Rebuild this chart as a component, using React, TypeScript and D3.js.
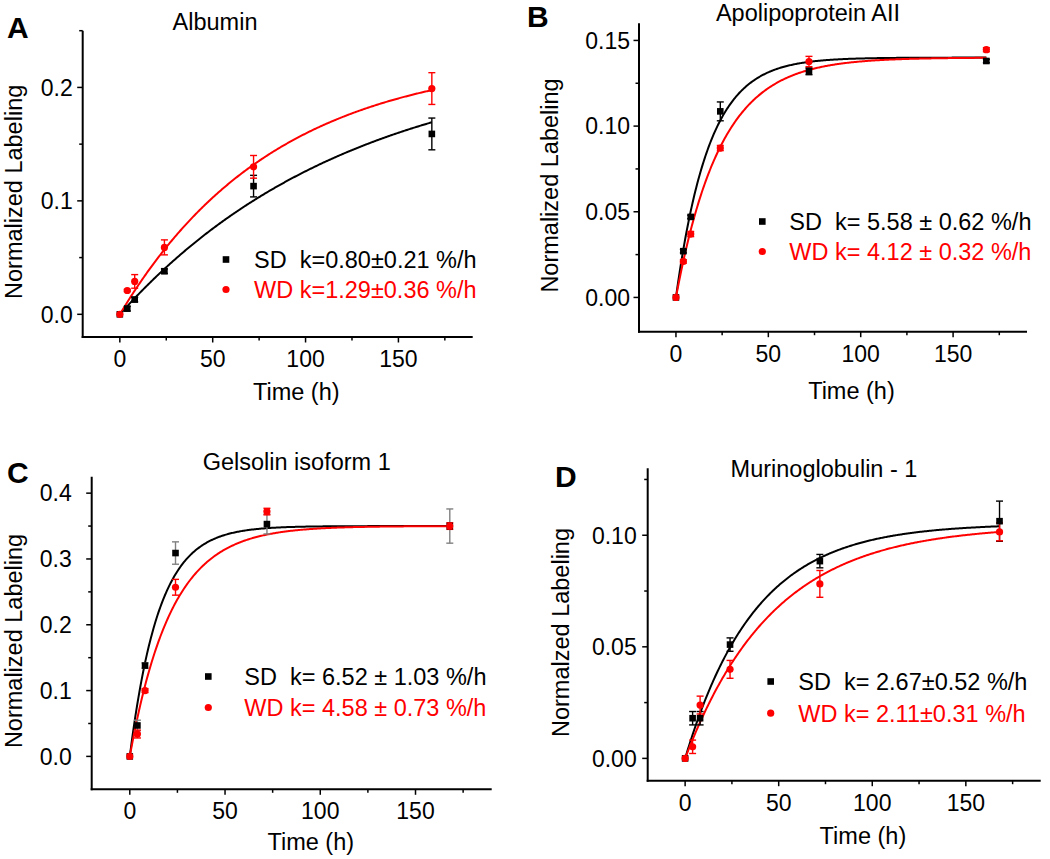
import React from 'react';
import * as d3 from 'd3';

// ---------- data ----------
const timePoints = [0, 4, 8, 24, 72, 168];

// Panel A: Albumin
const albuminSD = [0, 0.005, 0.013, 0.038, 0.113, 0.159];
const albuminSDErr = [0, 0.002, 0.002, 0.002, 0.0095, 0.014];
const albuminWD = [0, 0.021, 0.029, 0.059, 0.13, 0.199];
const albuminWDErr = [0, 0.001, 0.006, 0.0066, 0.01, 0.014];
const albuminFitSD = { plateau: 0.229, rate: 0.008 };
const albuminFitWD = { plateau: 0.228, rate: 0.012 };

// Panel B: Apolipoprotein AII
const apoSD = [0, 0.027, 0.047, 0.1086, 0.132, 0.138];
const apoSDErr = [0, 0.001, 0.001, 0.0055, 0.002, 0.001];
const apoWD = [0, 0.021, 0.037, 0.0872, 0.1377, 0.1446];
const apoWDErr = [0, 0.001, 0.0015, 0.0015, 0.003, 0.0012];
const apoFitSD = { plateau: 0.14, rate: 0.0558 };
const apoFitWD = { plateau: 0.14, rate: 0.0412 };

// Panel C: Gelsolin isoform 1
const gelSD = [0, 0.047, 0.138, 0.309, 0.353, 0.35];
const gelSDErr = [0, 0.008, 0.004, 0.017, 0.015, 0.026];
const gelWD = [0, 0.034, 0.1, 0.257, 0.372, 0.35];
const gelWDErr = [0, 0.006, 0.003, 0.012, 0.005, 0.005];
const gelFitSD = { plateau: 0.35, rate: 0.0652 };
const gelFitWD = { plateau: 0.35, rate: 0.0458 };

// Panel D: Murinoglobulin - 1
const murSD = [0, 0.018, 0.018, 0.051, 0.0884, 0.1063];
const murSDErr = [0, 0.003, 0.003, 0.003, 0.003, 0.009];
const murWD = [0, 0.0052, 0.0239, 0.0399, 0.0782, 0.1015];
const murWDErr = [0, 0.003, 0.004, 0.004, 0.006, 0.004];
const murFitSD = { plateau: 0.1052, rate: 0.0267 };
const murFitWD = { plateau: 0.1045, rate: 0.0211 };

const xMajorTicks = [0, 50, 100, 150];
const xMinorTicks = [25, 75, 125, 175];

const legendA = ['SD  k=0.80±0.21 %/h', 'WD k=1.29±0.36 %/h'];
const legendB = ['SD  k= 5.58 ± 0.62 %/h', 'WD k= 4.12 ± 0.32 %/h'];
const legendC = ['SD  k= 6.52 ± 1.03 %/h', 'WD k= 4.58 ± 0.73 %/h'];
const legendD = ['SD  k= 2.67±0.52 %/h', 'WD k= 2.11±0.31 %/h'];

// ---------- rendering ----------
const FONT = '"Liberation Sans", Arial, sans-serif';
const RED = '#ff0000';

type Fit = { plateau: number; rate: number };
type Series = {
  values: number[];
  errors: number[];
  fit: Fit;
  color: string;
  errColor: string;
  shape: 'square' | 'circle';
};

type PanelCfg = {
  letter: string;
  letterX: number;
  letterY: number;
  title: string;
  titleX: number;
  titleY: number;
  left: number;
  right: number;
  top: number;
  bottom: number;
  yDomain: [number, number];
  yMajor: number[];
  yMinor: number[];
  yFmt: string;
  yLabelGap: number;
  yTitle: string;
  yTitleX: number;
  xTitleY: number;
  series: Series[];
  legend: string[];
  legendMarkerX: number;
  legendTextX: number;
  legendY: number[];
};

function Marker({ shape, x, y, color }: { shape: string; x: number; y: number; color: string }) {
  if (shape === 'square') {
    return <rect x={x - 3.3} y={y - 3.3} width={6.6} height={6.6} fill={color} />;
  }
  return <circle cx={x} cy={y} r={3.6} fill={color} />;
}

function Panel({ cfg }: { cfg: PanelCfg }) {
  const x = d3.scaleLinear().domain([-20, 190]).range([cfg.left, cfg.right]);
  const y = d3.scaleLinear().domain(cfg.yDomain).range([cfg.bottom, cfg.top]);
  const fmt = d3.format(cfg.yFmt);
  const tGrid = d3.range(0, 168.5, 0.5);
  const line = d3
    .line<number>()
    .x((t) => x(t))
    .curve(d3.curveLinear);

  return (
    <g>
      <text x={cfg.letterX} y={cfg.letterY} fontFamily={FONT} fontWeight="bold" fontSize={30}>
        {cfg.letter}
      </text>
      <text x={cfg.titleX} y={cfg.titleY} fontFamily={FONT} fontSize={23.5} textAnchor="middle">
        {cfg.title}
      </text>

      {/* fit curves */}
      {cfg.series.map((s, i) => (
        <path
          key={'fit' + i}
          d={line.y((t) => y(s.fit.plateau * (1 - Math.exp(-s.fit.rate * t))))(tGrid) || ''}
          fill="none"
          stroke={s.color}
          strokeWidth={2}
        />
      ))}

      {/* error bars */}
      {cfg.series.map((s, i) =>
        timePoints.map((t, j) => {
          const e = s.errors[j];
          if (!e) return null;
          const cx = x(t);
          const y1 = y(s.values[j] + e);
          const y2 = y(s.values[j] - e);
          return (
            <g key={'e' + i + '-' + j} stroke={s.errColor} strokeWidth={1.4}>
              <line x1={cx} x2={cx} y1={y1} y2={y2} />
              <line x1={cx - 3.5} x2={cx + 3.5} y1={y1} y2={y1} />
              <line x1={cx - 3.5} x2={cx + 3.5} y1={y2} y2={y2} />
            </g>
          );
        })
      )}

      {/* markers */}
      {cfg.series.map((s, i) =>
        timePoints.map((t, j) => (
          <Marker key={'m' + i + '-' + j} shape={s.shape} x={x(t)} y={y(s.values[j])} color={s.color} />
        ))
      )}

      {/* axes */}
      <line x1={cfg.left} x2={cfg.left} y1={cfg.top} y2={cfg.bottom + 1} stroke="#000" strokeWidth={2} />
      <line x1={cfg.left - 1} x2={cfg.right} y1={cfg.bottom} y2={cfg.bottom} stroke="#000" strokeWidth={2} />

      {cfg.yMajor.map((v) => (
        <g key={'ym' + v}>
          <line x1={cfg.left - 5.5} x2={cfg.left} y1={y(v)} y2={y(v)} stroke="#000" strokeWidth={1.5} />
          <text
            x={cfg.left - cfg.yLabelGap}
            y={y(v)}
            dy="0.36em"
            textAnchor="end"
            fontFamily={FONT}
            fontSize={23}
          >
            {fmt(v)}
          </text>
        </g>
      ))}
      {cfg.yMinor.map((v) => (
        <line key={'yn' + v} x1={cfg.left - 3.5} x2={cfg.left} y1={y(v)} y2={y(v)} stroke="#000" strokeWidth={1.5} />
      ))}
      {xMajorTicks.map((v) => (
        <g key={'xm' + v}>
          <line x1={x(v)} x2={x(v)} y1={cfg.bottom} y2={cfg.bottom + 5.5} stroke="#000" strokeWidth={1.5} />
          <text x={x(v)} y={cfg.bottom + 30} textAnchor="middle" fontFamily={FONT} fontSize={23}>
            {v}
          </text>
        </g>
      ))}
      {xMinorTicks.map((v) => (
        <line key={'xn' + v} x1={x(v)} x2={x(v)} y1={cfg.bottom} y2={cfg.bottom + 3.5} stroke="#000" strokeWidth={1.5} />
      ))}

      <text
        x={(x(0) + cfg.right) / 2 + 0}
        y={cfg.xTitleY}
        textAnchor="middle"
        fontFamily={FONT}
        fontSize={23.5}
      >
        Time (h)
      </text>
      <text
        transform={`translate(${cfg.yTitleX},${(cfg.top + cfg.bottom) / 2 + 8}) rotate(-90)`}
        textAnchor="middle"
        fontFamily={FONT}
        fontSize={23.5}
      >
        {cfg.yTitle}
      </text>

      {/* legend */}
      {cfg.series.map((s, i) => (
        <g key={'lg' + i}>
          <Marker shape={s.shape} x={cfg.legendMarkerX} y={cfg.legendY[i] - 8.5} color={s.color} />
          <text
            x={cfg.legendTextX}
            y={cfg.legendY[i]}
            fontFamily={FONT}
            fontSize={23.5}
            fill={s.color}
            style={{ whiteSpace: 'pre' }}
          >
            {cfg.legend[i]}
          </text>
        </g>
      ))}
    </g>
  );
}

const panels: PanelCfg[] = [
  {
    letter: 'A', letterX: 7, letterY: 38,
    title: 'Albumin', titleX: 215, titleY: 30,
    left: 82.7, right: 472.7, top: 30.7, bottom: 337,
    yDomain: [-0.02, 0.25], yMajor: [0, 0.1, 0.2], yMinor: [0.05, 0.15, 0.25], yFmt: '.1f', yLabelGap: 10,
    yTitle: 'Normalized Labeling', yTitleX: 22, xTitleY: 400,
    series: [
      { values: albuminSD, errors: albuminSDErr, fit: albuminFitSD, color: '#000', errColor: '#000', shape: 'square' },
      { values: albuminWD, errors: albuminWDErr, fit: albuminFitWD, color: RED, errColor: RED, shape: 'circle' },
    ],
    legend: legendA, legendMarkerX: 226, legendTextX: 254, legendY: [268, 298],
  },
  {
    letter: 'B', letterX: 527, letterY: 27,
    title: 'Apolipoprotein AII', titleX: 808, titleY: 21,
    left: 639, right: 1027, top: 23.3, bottom: 331.7,
    yDomain: [-0.02, 0.16], yMajor: [0, 0.05, 0.1, 0.15], yMinor: [0.025, 0.075, 0.125], yFmt: '.2f', yLabelGap: 9,
    yTitle: 'Normalized Labeling', yTitleX: 558, xTitleY: 398.5,
    series: [
      { values: apoSD, errors: apoSDErr, fit: apoFitSD, color: '#000', errColor: '#000', shape: 'square' },
      { values: apoWD, errors: apoWDErr, fit: apoFitWD, color: RED, errColor: RED, shape: 'circle' },
    ],
    legend: legendB, legendMarkerX: 762.3, legendTextX: 789.3, legendY: [230, 260],
  },
  {
    letter: 'C', letterX: 7, letterY: 483,
    title: 'Gelsolin isoform 1', titleX: 296.7, titleY: 470,
    left: 91.7, right: 491.7, top: 476.7, bottom: 789.3,
    yDomain: [-0.05, 0.425], yMajor: [0, 0.1, 0.2, 0.3, 0.4], yMinor: [0.05, 0.15, 0.25, 0.35], yFmt: '.1f', yLabelGap: 20,
    yTitle: 'Normalized Labeling', yTitleX: 22, xTitleY: 850,
    series: [
      { values: gelSD, errors: gelSDErr, fit: gelFitSD, color: '#000', errColor: '#808080', shape: 'square' },
      { values: gelWD, errors: gelWDErr, fit: gelFitWD, color: RED, errColor: RED, shape: 'circle' },
    ],
    legend: legendC, legendMarkerX: 208.3, legendTextX: 244.3, legendY: [685, 716],
  },
  {
    letter: 'D', letterX: 555, letterY: 487,
    title: 'Murinoglobulin - 1', titleX: 824, titleY: 477.3,
    left: 647.7, right: 1040.7, top: 468.3, bottom: 780.7,
    yDomain: [-0.01, 0.13], yMajor: [0, 0.05, 0.1], yMinor: [0.025, 0.075, 0.125], yFmt: '.2f', yLabelGap: 11,
    yTitle: 'Normalzed Labeling', yTitleX: 569, xTitleY: 843.5,
    series: [
      { values: murSD, errors: murSDErr, fit: murFitSD, color: '#000', errColor: '#000', shape: 'square' },
      { values: murWD, errors: murWDErr, fit: murFitWD, color: RED, errColor: RED, shape: 'circle' },
    ],
    legend: legendD, legendMarkerX: 770.7, legendTextX: 798.3, legendY: [690, 721.7],
  },
];

export default function App() {
  return (
    <svg
      width={1050}
      height={859}
      viewBox="0 0 1050 859"
      style={{ position: 'absolute', left: 0, top: 0, background: '#fff' }}
    >
      <rect width={1050} height={859} fill="#fff" />
      {panels.map((p) => (
        <Panel key={p.letter} cfg={p} />
      ))}
    </svg>
  );
}
